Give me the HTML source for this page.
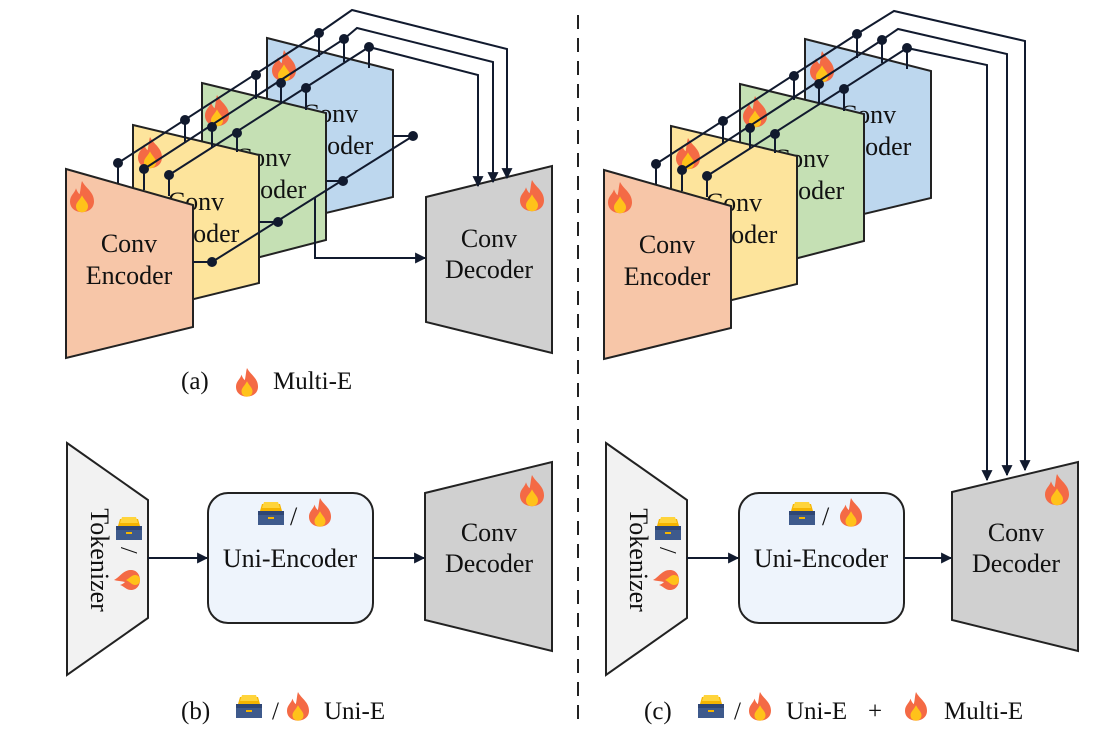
<!DOCTYPE html>
<html><head><meta charset="utf-8"><style>
html,body{margin:0;padding:0;background:#fff;}
svg{display:block;}
text{font-family:"Liberation Serif",serif;fill:#111;}
</style></head><body>
<svg width="1107" height="744" viewBox="0 0 1107 744" xmlns="http://www.w3.org/2000/svg">
<defs>
<g id="flame">
<path d="M10 0 C13 6 20 9 20 17 C20 23 15 26 10 26 C5 26 0 23 0 17 C0 12 4 10 5 6 C6 9 7 10 8 11 C9 7 9 3 10 0Z" fill="#f46a45"/>
<path d="M10 12 C12 16 15 18 15 21 C15 24 13 26 10 26 C7 26 5 24 5 21 C5 18 8 16 10 12Z" fill="#ffc21a"/>
</g>
<g id="bflame"><use href="#flame" transform="scale(1.2)"/></g>
<g id="box">
<path d="M4 2 L22 2 L24 9 L2 9Z" fill="#f5b400"/>
<path d="M6 0 L20 0 L22 6 L4 6Z" fill="#ffd43b"/>
<rect x="0" y="9" width="26" height="14" fill="#3e5a8c"/>
<rect x="0" y="9" width="26" height="4" fill="#2f4674"/>
<rect x="10" y="15" width="6" height="2" fill="#f5b400"/>
</g>
<marker id="ah" viewBox="0 0 10 10" refX="9" refY="5" markerWidth="12" markerHeight="11" orient="auto" markerUnits="userSpaceOnUse">
<path d="M0 0 L10 5 L0 10Z" fill="#111a2e"/>
</marker>
</defs>

<!-- ========== Panel (a) ========== -->
<polygon points="267,38 393,70 393,197 267,227" fill="#bdd7ee" stroke="#222" stroke-width="2"/>
<text x="330" y="122" font-size="26" text-anchor="middle">Conv</text>
<text x="330" y="154" font-size="26" text-anchor="middle">Encoder</text>
<use href="#bflame" x="272" y="50"/>
<polygon points="202,83 326,113 326,240 202,272" fill="#c5e0b4" stroke="#222" stroke-width="2"/>
<text x="263" y="166" font-size="26" text-anchor="middle">Conv</text>
<text x="263" y="198" font-size="26" text-anchor="middle">Encoder</text>
<use href="#bflame" x="205" y="95"/>
<polygon points="133,125 259,155 259,283 133,314" fill="#fde49c" stroke="#222" stroke-width="2"/>
<text x="196" y="210" font-size="26" text-anchor="middle">Conv</text>
<text x="196" y="242" font-size="26" text-anchor="middle">Encoder</text>
<use href="#bflame" x="138" y="137"/>
<polygon points="66,169 193,205 193,327 66,358" fill="#f7c6a8" stroke="#222" stroke-width="2"/>
<text x="129" y="252" font-size="26" text-anchor="middle">Conv</text>
<text x="129" y="284" font-size="26" text-anchor="middle">Encoder</text>
<use href="#bflame" x="70" y="181"/>

<polygon points="426,197 552,166 552,353 426,322" fill="#d0d0d0" stroke="#222" stroke-width="2"/>
<text x="489" y="247" font-size="26" text-anchor="middle">Conv</text>
<text x="489" y="278" font-size="26" text-anchor="middle">Decoder</text>
<use href="#bflame" x="520" y="180"/>

<g stroke="#111a2e" stroke-width="2" fill="none">
<polyline points="118,163 319,33 352,10 507,49 507,178" marker-end="url(#ah)"/>
<polyline points="144,169 344,39 357,28 493,62 493,182" marker-end="url(#ah)"/>
<polyline points="169,175 369,47 478,75 478,186" marker-end="url(#ah)"/>
<path d="M118 163 V183 M185 120 V142 M256 75 V99 M319 33 V57 M144 169 V190 M212 127 V147 M281 83 V104 M344 39 V62 M169 175 V196 M237 133 V152 M306 88 V110 M369 47 V68"/>
<polyline points="193,262 212,262 413,136"/>
<path d="M259 222 H278 M326 181 H343 M393 136 H413"/>
<polyline points="315,197 315,258 425,258" marker-end="url(#ah)"/>
</g>
<g fill="#111a2e">
<circle cx="118" cy="163" r="5"/><circle cx="185" cy="120" r="5"/><circle cx="256" cy="75" r="5"/><circle cx="319" cy="33" r="5"/>
<circle cx="144" cy="169" r="5"/><circle cx="212" cy="127" r="5"/><circle cx="281" cy="83" r="5"/><circle cx="344" cy="39" r="5"/>
<circle cx="169" cy="175" r="5"/><circle cx="237" cy="133" r="5"/><circle cx="306" cy="88" r="5"/><circle cx="369" cy="47" r="5"/>
<circle cx="212" cy="262" r="5"/><circle cx="278" cy="222" r="5"/><circle cx="343" cy="181" r="5"/><circle cx="413" cy="136" r="5"/>
</g>
<text x="181" y="389" font-size="25">(a)</text>
<use href="#flame" transform="translate(236,368) scale(1.1)"/>
<text x="273" y="389" font-size="25">Multi-E</text>

<!-- ========== Panel (b) ========== -->
<polygon points="67,443 148,500 148,618 67,675" fill="#f2f2f2" stroke="#222" stroke-width="2"/>
<text transform="translate(91,560) rotate(90)" font-size="26" text-anchor="middle">Tokenizer</text>
<use href="#box" transform="translate(116,517)"/>
<text transform="translate(121,547) rotate(90)" font-size="24">/</text>
<use href="#flame" transform="translate(114,590) rotate(-90)"/>
<rect x="208" y="493" width="165" height="130" rx="20" fill="#eef4fc" stroke="#222" stroke-width="2"/>
<use href="#box" x="258" y="502"/>
<text x="290" y="525" font-size="26">/</text>
<use href="#flame" transform="translate(309,498) scale(1.1)"/>
<text x="290" y="567" font-size="26" text-anchor="middle">Uni-Encoder</text>
<polygon points="425,493 552,462 552,651 425,620" fill="#d0d0d0" stroke="#222" stroke-width="2"/>
<text x="489" y="541" font-size="26" text-anchor="middle">Conv</text>
<text x="489" y="572" font-size="26" text-anchor="middle">Decoder</text>
<use href="#bflame" x="520" y="475"/>
<g stroke="#111a2e" stroke-width="2" fill="none">
<line x1="148" y1="558" x2="207" y2="558" marker-end="url(#ah)"/>
<line x1="373" y1="558" x2="424" y2="558" marker-end="url(#ah)"/>
</g>
<text x="181" y="719" font-size="25">(b)</text>
<use href="#box" x="236" y="695"/>
<text x="272" y="719" font-size="25">/</text>
<use href="#flame" transform="translate(287,692) scale(1.1)"/>
<text x="324" y="719" font-size="25">Uni-E</text>

<!-- divider -->
<line x1="578" y1="15" x2="578" y2="728" stroke="#222" stroke-width="2" stroke-dasharray="14,9"/>

<!-- ========== Panel (c) ========== -->
<g transform="translate(538,1)">
<polygon points="267,38 393,70 393,197 267,227" fill="#bdd7ee" stroke="#222" stroke-width="2"/>
<text x="330" y="122" font-size="26" text-anchor="middle">Conv</text>
<text x="330" y="154" font-size="26" text-anchor="middle">Encoder</text>
<use href="#bflame" x="272" y="50"/>
<polygon points="202,83 326,113 326,240 202,272" fill="#c5e0b4" stroke="#222" stroke-width="2"/>
<text x="263" y="166" font-size="26" text-anchor="middle">Conv</text>
<text x="263" y="198" font-size="26" text-anchor="middle">Encoder</text>
<use href="#bflame" x="205" y="95"/>
<polygon points="133,125 259,155 259,283 133,314" fill="#fde49c" stroke="#222" stroke-width="2"/>
<text x="196" y="210" font-size="26" text-anchor="middle">Conv</text>
<text x="196" y="242" font-size="26" text-anchor="middle">Encoder</text>
<use href="#bflame" x="138" y="137"/>
<polygon points="66,169 193,205 193,327 66,358" fill="#f7c6a8" stroke="#222" stroke-width="2"/>
<text x="129" y="252" font-size="26" text-anchor="middle">Conv</text>
<text x="129" y="284" font-size="26" text-anchor="middle">Encoder</text>
<use href="#bflame" x="70" y="181"/>
<g stroke="#111a2e" stroke-width="2" fill="none">
<polyline points="118,163 319,33 356,10 487,40 487,469" marker-end="url(#ah)"/>
<polyline points="144,169 344,39 360,28 469,53 469,474" marker-end="url(#ah)"/>
<polyline points="169,175 369,47 449,64 449,479" marker-end="url(#ah)"/>
<path d="M118 163 V183 M185 120 V142 M256 75 V99 M319 33 V57 M144 169 V190 M212 127 V147 M281 83 V104 M344 39 V62 M169 175 V196 M237 133 V152 M306 88 V110 M369 47 V68"/>
</g>
<g fill="#111a2e">
<circle cx="118" cy="163" r="5"/><circle cx="185" cy="120" r="5"/><circle cx="256" cy="75" r="5"/><circle cx="319" cy="33" r="5"/>
<circle cx="144" cy="169" r="5"/><circle cx="212" cy="127" r="5"/><circle cx="281" cy="83" r="5"/><circle cx="344" cy="39" r="5"/>
<circle cx="169" cy="175" r="5"/><circle cx="237" cy="133" r="5"/><circle cx="306" cy="88" r="5"/><circle cx="369" cy="47" r="5"/>
</g>
</g>

<polygon points="606,443 687,500 687,618 606,675" fill="#f2f2f2" stroke="#222" stroke-width="2"/>
<text transform="translate(630,560) rotate(90)" font-size="26" text-anchor="middle">Tokenizer</text>
<use href="#box" transform="translate(655,517)"/>
<text transform="translate(660,547) rotate(90)" font-size="24">/</text>
<use href="#flame" transform="translate(653,590) rotate(-90)"/>
<rect x="739" y="493" width="165" height="130" rx="20" fill="#eef4fc" stroke="#222" stroke-width="2"/>
<use href="#box" x="789" y="502"/>
<text x="822" y="525" font-size="26">/</text>
<use href="#flame" transform="translate(840,498) scale(1.1)"/>
<text x="821" y="567" font-size="26" text-anchor="middle">Uni-Encoder</text>
<polygon points="952,492 1078,462 1078,651 952,620" fill="#d0d0d0" stroke="#222" stroke-width="2"/>
<text x="1016" y="541" font-size="26" text-anchor="middle">Conv</text>
<text x="1016" y="572" font-size="26" text-anchor="middle">Decoder</text>
<use href="#bflame" x="1045" y="474"/>
<g stroke="#111a2e" stroke-width="2" fill="none">
<line x1="687" y1="558" x2="738" y2="558" marker-end="url(#ah)"/>
<line x1="904" y1="558" x2="951" y2="558" marker-end="url(#ah)"/>
</g>
<text x="644" y="719" font-size="25">(c)</text>
<use href="#box" x="698" y="695"/>
<text x="734" y="719" font-size="25">/</text>
<use href="#flame" transform="translate(749,692) scale(1.1)"/>
<text x="786" y="719" font-size="25">Uni-E</text>
<text x="868" y="719" font-size="25">+</text>
<use href="#flame" transform="translate(905,692) scale(1.1)"/>
<text x="944" y="719" font-size="25">Multi-E</text>
</svg>
</body></html>
